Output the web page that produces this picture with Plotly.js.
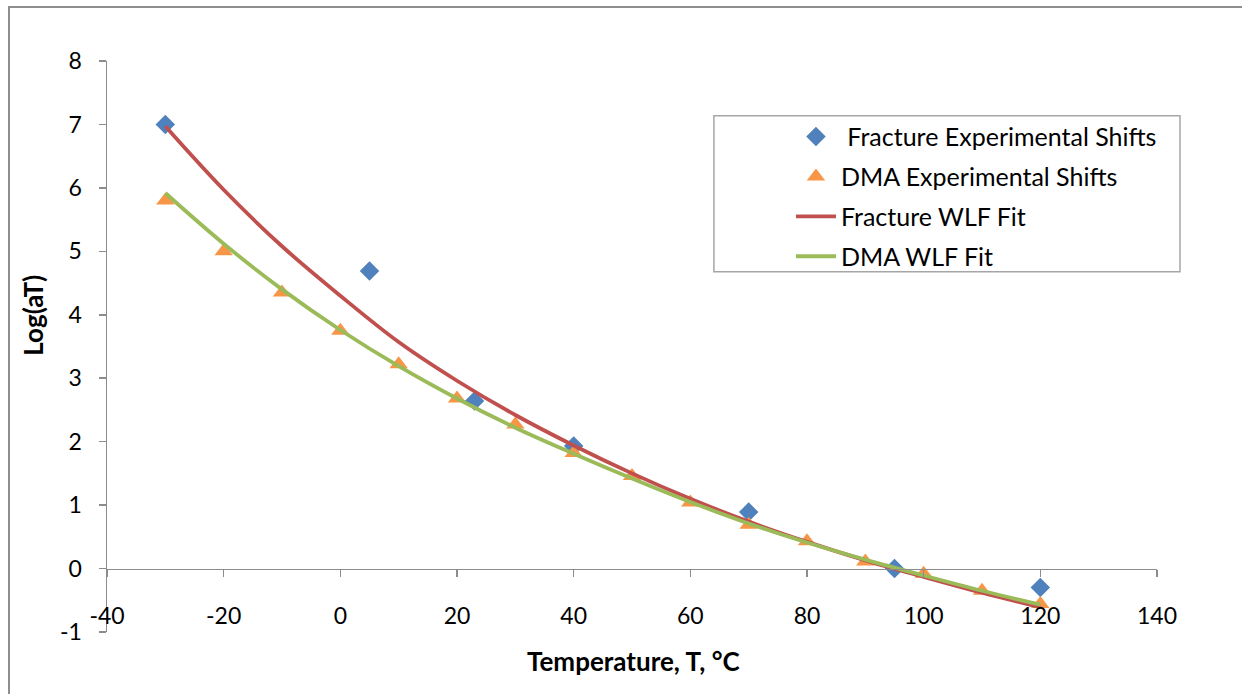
<!DOCTYPE html>
<html>
<head>
<meta charset="utf-8">
<script src="https://cdn.plot.ly/plotly-3.0.1.min.js"></script>
<style>
  html, body { margin: 0; padding: 0; background: #ffffff; }
  #wrap { position: relative; width: 1242px; height: 694px; overflow: hidden; }
  #frame { position: absolute; left: 8px; top: 6px; width: 1300px; height: 800px;
           border-top: 2px solid #8e8e8e; border-left: 2px solid #8e8e8e; box-sizing: border-box; }
  #chart { position: absolute; left: 0; top: 0; width: 1242px; height: 694px; }
</style>
</head>
<body>
<div id="wrap">
  <div id="frame"></div>
  <div id="chart"></div>
</div>
<script>
// Fracture experimental shift factors
const fracT = [-30, 5, 23, 40, 70, 95, 120];
const fracLogAT = [7.0, 4.69, 2.64, 1.93, 0.89, 0.0, -0.3];

// DMA experimental shift factors
const dmaT = [-30, -20, -10, 0, 10, 20, 30, 40, 50, 60, 70, 80, 90, 100, 110, 120];
const dmaLogAT = [5.8, 5.0, 4.35, 3.75, 3.22, 2.68, 2.27, 1.82, 1.46, 1.04, 0.69, 0.43, 0.11, -0.08, -0.35, -0.56];

// WLF fit curves
const fitT = [-30, -20, -10, 0, 10, 20, 30, 40, 50, 60, 70, 80, 90, 100, 110, 120];
const fracFit = [6.97, 5.97, 5.08, 4.30, 3.57, 2.96, 2.42, 1.94, 1.50, 1.10, 0.74, 0.42, 0.13, -0.13, -0.38, -0.61];
const dmaFit = [5.92, 5.12, 4.40, 3.76, 3.19, 2.68, 2.22, 1.81, 1.42, 1.05, 0.71, 0.41, 0.14, -0.11, -0.35, -0.57];

const xTicks = [-40, -20, 0, 20, 40, 60, 80, 100, 120, 140];
const yTicks = [-1, 0, 1, 2, 3, 4, 5, 6, 7, 8];

const xTitle = 'Temperature, T, °C';
const yTitle = 'Log(aT)';

const FONT = 'Lato, "Open Sans", "Liberation Sans", sans-serif';

const traces = [
  { x: fracT, y: fracLogAT, mode: 'markers', name: ' Fracture Experimental Shifts', legendgroup: 'a',
    marker: { symbol: 'diamond', size: 15, color: '#4F81BD' } },
  { x: dmaT, y: dmaLogAT, mode: 'markers', name: 'DMA Experimental Shifts', legendgroup: 'b',
    marker: { symbol: 'triangle-up', size: 16, color: '#F79646' } },
  { x: fitT, y: fracFit, mode: 'lines', name: 'Fracture WLF Fit', legendgroup: 'c',
    line: { color: '#C0504D', width: 3.8, shape: 'spline' } },
  { x: fitT, y: dmaFit, mode: 'lines', name: 'DMA WLF Fit', legendgroup: 'd',
    line: { color: '#9BBB59', width: 3.8, shape: 'spline' } }
];

const layout = {
  width: 1242, height: 694,
  paper_bgcolor: 'rgba(0,0,0,0)', plot_bgcolor: 'rgba(0,0,0,0)',
  margin: { l: 107, r: 85, t: 61, b: 61.5 },
  font: { family: FONT, size: 20, color: '#000000' },
  showlegend: true,
  legend: {
    x: 0.6514, y: 0.9075, xanchor: 'left', yanchor: 'top',
    borderwidth: 0, bgcolor: 'rgba(0,0,0,0)',
    font: { family: FONT, size: 25, color: '#000' },
    traceorder: 'grouped', tracegroupgap: 4.4,
    itemwidth: 40
  },
  shapes: [
    { type: 'rect', xref: 'paper', yref: 'paper',
      x0: 0.578, x1: 1.0219, y0: 0.6308, y1: 0.904,
      line: { color: '#a6a6a6', width: 1.5 }, fillcolor: '#ffffff', layer: 'below' }
  ],
  annotations: [
    { text: '<b>' + xTitle + '</b>', xref: 'paper', yref: 'paper', x: 0.5019, y: -0.0516,
      xanchor: 'center', yanchor: 'middle', showarrow: false,
      font: { family: FONT, size: 26, color: '#000' } },
    { text: '<b>' + yTitle + '</b>', xref: 'paper', yref: 'paper', x: -0.0705, y: 0.5556,
      xanchor: 'center', yanchor: 'middle', showarrow: false, textangle: -90,
      font: { family: FONT, size: 26, color: '#000' } }
  ],
  xaxis: {
    range: [-40, 140], tickvals: xTicks, ticktext: xTicks.map(String),
    anchor: 'free', position: 1/9,
    showline: true, linecolor: '#8c8c8c', linewidth: 1.5,
    ticks: 'outside', ticklen: 7, tickcolor: '#8c8c8c', tickwidth: 1.5,
    ticklabelstandoff: 19,
    showgrid: false, zeroline: false,
    tickfont: { family: FONT, size: 23 }
  },
  yaxis: {
    range: [-1, 8], tickvals: yTicks, ticktext: yTicks.map(String),
    showline: true, linecolor: '#8c8c8c', linewidth: 1.5,
    ticks: 'outside', ticklen: 7, tickcolor: '#8c8c8c', tickwidth: 1.5,
    ticklabelstandoff: 12,
    showgrid: false, zeroline: false,
    tickfont: { family: FONT, size: 23 }
  }
};

Plotly.newPlot('chart', traces, layout, { staticPlot: true, displayModeBar: false });
</script>
</body>
</html>
